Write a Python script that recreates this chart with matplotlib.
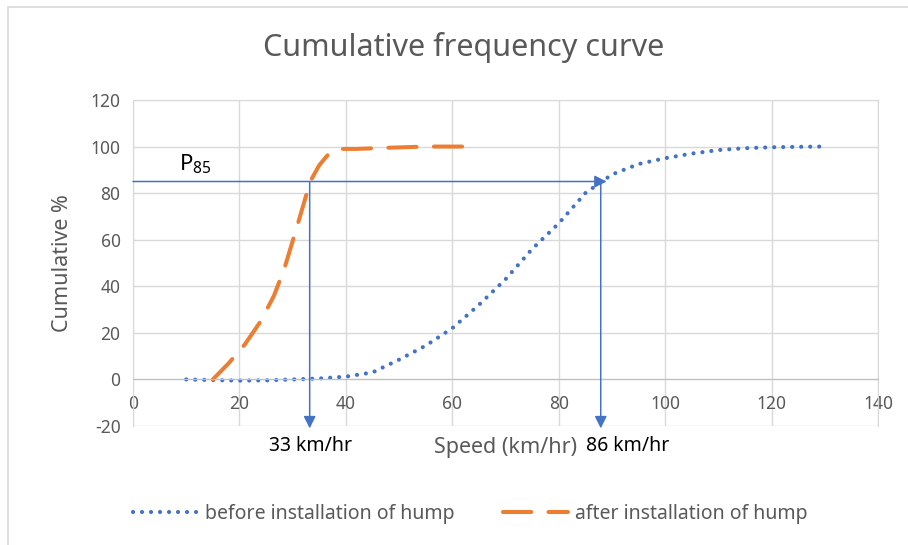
import matplotlib
matplotlib.use('Agg')
import matplotlib.pyplot as plt
from matplotlib.patches import Rectangle

plt.rcParams['font.family'] = ['Noto Sans', 'DejaVu Sans']
plt.rcParams['mathtext.default'] = 'regular'
plt.rcParams['axes.unicode_minus'] = False

# data
speed_before = [10, 15, 20, 25, 30, 35, 40, 45, 50, 55, 60, 65, 70, 75, 80, 85, 90,
                95, 100, 105, 110, 115, 120, 125, 129]
cum_before = [0, -0.3, -0.5, -0.4, 0, 0.4, 1.2, 3, 8.5, 14.5, 22, 32, 43, 56, 67, 80, 88,
              92.5, 95, 97, 98.5, 99.3, 99.7, 99.9, 100]

speed_after = [15, 18, 21, 24, 26.5, 28.5, 31, 33.3, 35, 37, 39, 42, 48, 55, 65]
cum_after = [0, 7, 15, 25, 36, 48, 67, 85, 92, 97.5, 99, 99, 99.5, 100, 100]

p85 = 85
p85_speed_x = [33.2, 87.9]          # where the arrows are drawn
p85_labels = ['33 km/hr', '86 km/hr']
p85_label_x = [33.4, 93]            # the text boxes sit a bit off the arrows
h_arrow_end = 89

blue = '#4472C4'
orange = '#ED7D31'
grey_txt = '#595959'
grid_c = '#d9d9d9'

fig = plt.figure(figsize=(9.08, 5.45), dpi=100)
ax = fig.add_axes([133/908, 1 - 426/545, (878-133)/908, (426-100)/545])

l1, = ax.plot(speed_before, cum_before, color=blue, lw=3,
              linestyle=(0, (0.01, 2.15)), dash_capstyle='round',
              label='before installation of hump')
l2, = ax.plot(speed_after, cum_after, color=orange, lw=2.9,
              linestyle=(0, (7, 4.3)), dash_capstyle='round',
              label='after installation of hump')

ax.set_xlim(0, 140)
ax.set_ylim(-20, 120)
ax.set_xticks(range(0, 141, 20))
ax.set_yticks(range(-20, 121, 20))
ax.grid(True, color=grid_c, lw=1)
ax.set_axisbelow(True)
for s in ['top', 'right', 'left']:
    ax.spines[s].set_color(grid_c)
ax.spines['bottom'].set_position(('data', 0))
ax.spines['bottom'].set_color('#bfbfbf')
ax.tick_params(length=0, labelsize=12.5, labelcolor=grey_txt)
ax.tick_params(axis='x', pad=11)
ax.tick_params(axis='y', pad=9)

# P85 arrows
arr = dict(arrowstyle='-|>', color=blue, lw=1.1, mutation_scale=18, shrinkA=0, shrinkB=0)
ax.annotate('', xy=(h_arrow_end, p85), xytext=(0, p85), arrowprops=arr)
for xv in p85_speed_x:
    ax.annotate('', xy=(xv, -21), xytext=(xv, p85), arrowprops=arr, annotation_clip=False)
for xl, lab in zip(p85_label_x, p85_labels):
    ax.text(xl, -28.8, lab, ha='center', va='center', fontsize=14, color='black', clip_on=False)
ax.text(11.7, 92.5, 'P$_{85}$', ha='center', va='center', fontsize=16, color='black')

ax.set_xlabel('Speed (km/hr)', fontsize=15.5, color=grey_txt, va='center')
ax.xaxis.set_label_coords(0.5, -0.066)
ax.set_ylabel('Cumulative %', fontsize=15.5, color=grey_txt, va='center')
ax.yaxis.set_label_coords(-0.095, 0.5)

fig.text(464/908, 1 - 47/545, 'Cumulative frequency curve', ha='center', va='center',
         fontsize=22, color=grey_txt)

fig.legend(handles=[l1, l2], loc='center', bbox_to_anchor=(470/908, 1 - 514/545),
           ncol=2, frameon=False, fontsize=14, handlelength=3.35, handletextpad=0.35,
           columnspacing=2.5, labelcolor=grey_txt)

fig.add_artist(Rectangle((8/908, -0.01), 1, 1 - 7/545 + 0.01, transform=fig.transFigure,
                         fill=False, edgecolor=grid_c, lw=1.2))

fig.savefig('out.png', dpi=100)
